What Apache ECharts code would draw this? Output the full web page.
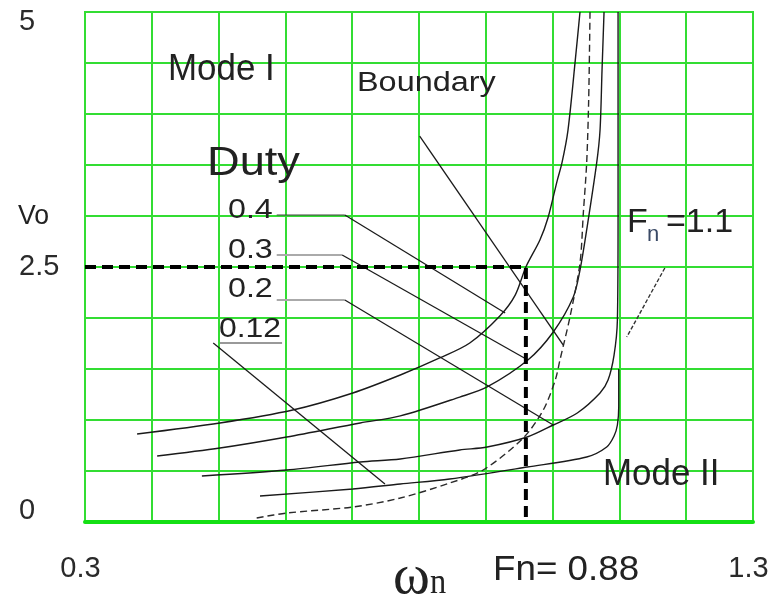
<!DOCTYPE html>
<html>
<head>
<meta charset="utf-8">
<script src="https://cdn.jsdelivr.net/npm/echarts/dist/echarts.min.js"></script>
<style>
  html, body { margin: 0; padding: 0; background: #ffffff; }
  #chart { width: 772px; height: 601px; }
</style>
</head>
<body>
<div id="chart"></div>
<script>
// Axis ranges and tick labels
const xRange = [0.3, 1.3];
const yRange = [0, 5];
const xTickValues = [0.3, 1.3];
const xTickLabels = ['0.3', '1.3'];
const yTickValues = [0, 2.5, 5];
const yTickLabels = ['0', '2.5', '5'];

// Output voltage vs normalised frequency, one curve per duty ratio
const duty04 = [[0.378,0.863],[0.502,0.971],[0.611,1.098],[0.701,1.265],[0.772,1.441],[0.831,1.608],[0.876,1.755],[0.921,2.02],[0.944,2.225],[0.96,2.5],[0.981,2.765],[0.993,2.98],[1.007,3.35],[1.014,3.52],[1.023,3.84],[1.034,4.53],[1.041,5.0]];
const duty03 = [[0.408,0.647],[0.502,0.725],[0.602,0.833],[0.712,0.971],[0.772,1.04],[0.861,1.225],[0.902,1.324],[0.963,1.588],[1.001,1.863],[1.031,2.206],[1.041,2.47],[1.051,2.863],[1.066,3.52],[1.071,3.84],[1.074,4.43],[1.077,5.0]];
const duty02 = [[0.475,0.451],[0.602,0.51],[0.712,0.588],[0.772,0.618],[0.861,0.706],[0.902,0.735],[0.962,0.833],[1.001,0.951],[1.037,1.069],[1.071,1.265],[1.083,1.392],[1.092,1.637],[1.097,1.98],[1.098,3.0],[1.098,5.0]];
const duty012 = [[0.562,0.255],[0.701,0.324],[0.772,0.373],[0.846,0.422],[0.962,0.539],[1.051,0.637],[1.081,0.735],[1.092,0.843],[1.097,0.951],[1.099,1.127],[1.099,1.5]];
// Mode I / Mode II boundary
const boundary = [[0.557,0.039],[0.602,0.088],[0.701,0.147],[0.772,0.235],[0.846,0.382],[0.896,0.51],[0.956,0.824],[0.986,1.098],[1.004,1.392],[1.011,1.588],[1.026,2.01],[1.041,2.539],[1.046,3.029],[1.051,3.52],[1.054,4.137],[1.056,5.0]];

// Operating point (frequency, output voltage)
const operatingPoint = [0.96, 2.5];

// Callout rules under the duty labels and the pointers to each curve
const tag04 = [[0.587,3.01],[0.689,3.01]];
const tag03 = [[0.587,2.618],[0.685,2.618]];
const tag02 = [[0.587,2.176],[0.689,2.176]];
const tag012 = [[0.502,1.755],[0.595,1.755]];
const pointer04 = [[0.689,3.01],[0.929,2.049]];
const pointer03 = [[0.685,2.618],[0.963,1.588]];
const pointer02 = [[0.689,2.176],[1.001,0.951]];
const pointer012 = [[0.492,1.755],[0.749,0.373]];
const pointerBoundary = [[0.801,3.784],[1.016,1.735]];
const pointerFn = [[1.168,2.49],[1.111,1.814]];

const GREEN = '#33dd33';
const INK = '#1a1a1a';
const SANS = '"Liberation Sans", Arial, sans-serif';
const SERIF = '"Liberation Serif", "Times New Roman", serif';

function tickText(values, labels, v) {
  for (let i = 0; i < values.length; i++) {
    if (Math.abs(values[i] - v) < 1e-6) return labels[i];
  }
  return '';
}

function curve(name, data, color, width, type) {
  return {
    name: name, type: 'line', data: data, smooth: 0.3, symbol: 'none', silent: true,
    lineStyle: { color: color, width: width, type: type || 'solid' }, z: 3
  };
}

function segment(data, color, width, type) {
  return {
    type: 'line', data: data, symbol: 'none', silent: true,
    lineStyle: { color: color, width: width, type: type || 'solid' }, z: 4
  };
}

function label(x, y, text, size, sx, family, fill) {
  return {
    type: 'text', x: x, y: y, scaleX: sx, z: 10, silent: true,
    style: {
      text: text, fontSize: size, fontFamily: family || SANS,
      fill: fill || '#222', textAlign: 'left', textVerticalAlign: 'middle'
    }
  };
}

const chart = echarts.init(document.getElementById('chart'), null, { renderer: 'canvas' });

const option = {
  backgroundColor: '#ffffff',
  animation: false,
  grid: {
    left: 85, right: 19, top: 12, bottom: 79,
    show: true, borderColor: GREEN, borderWidth: 2,
    containLabel: false, outerBoundsMode: 'none'
  },
  xAxis: {
    type: 'value', min: xRange[0], max: xRange[1], interval: 0.1,
    axisLine: { show: true, onZero: false, lineStyle: { color: '#14e014', width: 4 } },
    axisTick: { show: false },
    splitLine: { show: true, lineStyle: { color: GREEN, width: 2 } },
    axisLabel: {
      margin: 32, fontSize: 29, color: '#2a2a2a', fontFamily: SANS,
      padding: [0, 9, 0, 0],
      formatter: v => tickText(xTickValues, xTickLabels, v)
    }
  },
  yAxis: {
    type: 'value', min: yRange[0], max: yRange[1], interval: 0.5,
    axisLine: { show: true, lineStyle: { color: GREEN, width: 2 } },
    axisTick: { show: false },
    splitLine: { show: true, lineStyle: { color: GREEN, width: 2 } },
    axisLabel: {
      margin: 66, align: 'left', color: '#2a2a2a',
      formatter: v => {
        const t = tickText(yTickValues, yTickLabels, v);
        if (!t) return '';
        if (v === yRange[1]) return '{top|' + t + '}';
        if (v === yRange[0]) return '{bot|' + t + '}';
        return '{mid|' + t + '}';
      },
      rich: {
        top: { fontSize: 29, fontFamily: SANS, color: '#2a2a2a', padding: [20, 0, 0, 0] },
        mid: { fontSize: 29, fontFamily: SANS, color: '#2a2a2a' },
        bot: { fontSize: 29, fontFamily: SANS, color: '#2a2a2a', padding: [0, 0, 22, 0] }
      }
    }
  },
  series: [
    curve('Duty 0.4', duty04, INK, 1.4),
    curve('Duty 0.3', duty03, INK, 1.4),
    curve('Duty 0.2', duty02, INK, 1.4),
    curve('Duty 0.12', duty012, INK, 1.4),
    curve('Boundary', boundary, '#2a2a2a', 1.4, [7, 4]),
    segment(tag04, '#444', 1.2),
    segment(tag03, '#aaaaaa', 2),
    segment(tag02, '#aaaaaa', 2),
    segment(tag012, '#999999', 2),
    segment(pointer04, INK, 1.3),
    segment(pointer03, INK, 1.3),
    segment(pointer02, INK, 1.3),
    segment(pointer012, INK, 1.3),
    segment(pointerBoundary, INK, 1.3),
    segment(pointerFn, '#333', 1.4, [4, 2]),
    {
      name: 'Operating point', type: 'line', symbol: 'none', silent: true, z: 6,
      data: [[xRange[0], operatingPoint[1]], operatingPoint, [operatingPoint[0], yRange[0]]],
      lineStyle: { color: '#000', width: 4, type: [11, 6] }
    }
  ],
  graphic: [
    label(168, 70, 'Mode I', 36, 0.97),
    label(357, 84, 'Boundary', 27, 1.2),
    label(207, 164, 'Duty', 40, 1.13),
    label(228, 210, '0.4', 28, 1.15),
    label(228, 250, '0.3', 28, 1.15),
    label(228, 289, '0.2', 28, 1.15),
    label(219, 329, '0.12', 28, 1.14),
    label(18, 216, 'Vo', 28, 0.95),
    label(627, 223, 'F', 34, 1.0),
    label(647, 235, 'n', 22, 1.0, null, '#3a4a66'),
    label(666, 223, '=1.1', 34, 1.0),
    label(603, 475, 'Mode II', 36, 0.97),
    label(393, 578, 'ω', 56, 1.0, SERIF),
    label(430, 584, 'n', 36, 0.9, SERIF),
    label(493, 570, 'Fn= 0.88', 35, 1.05)
  ]
};

chart.setOption(option);
</script>
</body>
</html>
